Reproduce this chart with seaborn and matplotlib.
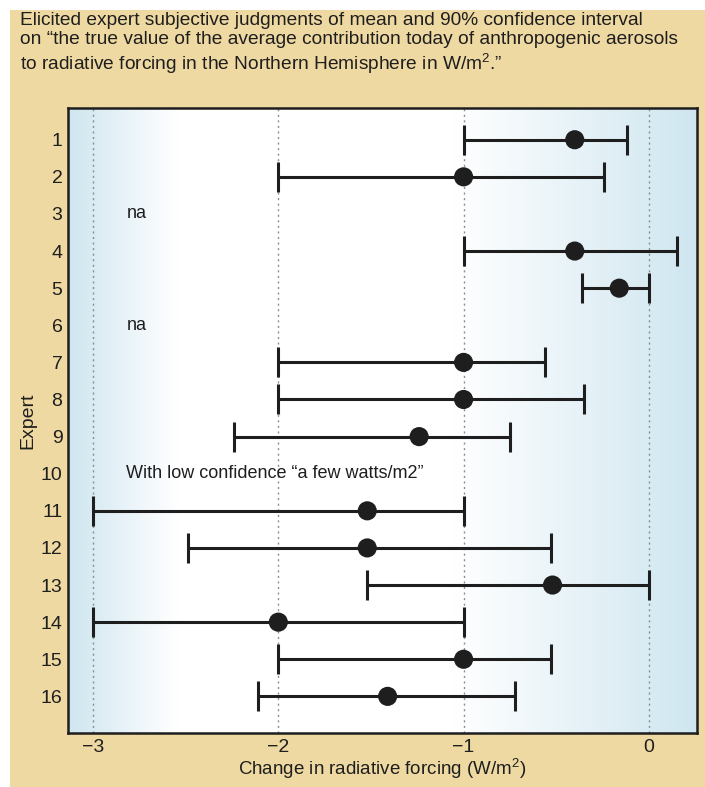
import numpy as np
import pandas as pd
import seaborn as sns
import matplotlib.pyplot as plt
from matplotlib.colors import LinearSegmentedColormap
from matplotlib.patches import Rectangle

# expert judgments (W/m^2): mean and 90% interval
experts = [1, 2, 4, 5, 7, 8, 9, 11, 12, 13, 14, 15, 16]
means = [-0.40, -1.00, -0.40, -0.16, -1.00, -1.00, -1.24, -1.52, -1.52, -0.52, -2.00, -1.00, -1.41]
lows = [-1.00, -2.00, -1.00, -0.36, -2.00, -2.00, -2.24, -3.00, -2.49, -1.52, -3.00, -2.00, -2.11]
highs = [-0.12, -0.24, 0.15, 0.00, -0.56, -0.35, -0.75, -1.00, -0.53, 0.00, -1.00, -0.53, -0.72]

na_experts = [3, 6]
note_expert = 10
note_text = "With low confidence \u201ca few watts/m2\u201d"

title = ("Elicited expert subjective judgments of mean and 90% confidence interval\n"
         "on \u201cthe true value of the average contribution today of anthropogenic aerosols\n"
         "to radiative forcing in the Northern Hemisphere in W/m$^2$.\u201d")

df = pd.DataFrame({"expert": experts, "mean": means, "low": lows, "high": highs})

sns.set_theme(style="white")
plt.rcParams['font.family'] = ['Liberation Sans', 'DejaVu Sans']
plt.rcParams['mathtext.fontset'] = 'custom'
plt.rcParams['mathtext.rm'] = 'Liberation Sans'

BEIGE = "#efd9a2"
BLUE = "#cfe6f0"
INK = "#1e1e1e"

fig = plt.figure(figsize=(7.05, 7.87), dpi=100)
fig.patch.set_facecolor("white")
fig.patches.append(Rectangle((10 / 705, 0), 1, 1 - 10 / 787, transform=fig.transFigure,
                             facecolor=BEIGE, edgecolor="none", zorder=-10))

ax = fig.add_axes([0.0965, 0.068, 0.8922, 0.795])
xlim = (-3.135, 0.26)
ylim = (17.0, 0.14)

# background gradient: blue at the edges, white in the middle
gx = np.linspace(xlim[0], xlim[1], 400)
w = np.interp(gx, [xlim[0], -2.55, -1.05, 0.0, xlim[1]], [1.0, 0.0, 0.0, 0.8, 1.0])
grad = np.tile(w, (2, 1))
cmap = LinearSegmentedColormap.from_list("bg", ["white", BLUE])
ax.imshow(grad, extent=(xlim[0], xlim[1], ylim[0], ylim[1]), aspect="auto",
          cmap=cmap, vmin=0, vmax=1, zorder=0, interpolation="bicubic")

for gxv in [-3, -2, -1, 0]:
    ax.axvline(gxv, color="#8a8f96", lw=1.0, ls=(0, (1.5, 2.5)), zorder=1)

ax.errorbar(df["mean"], df["expert"],
            xerr=[df["mean"] - df["low"], df["high"] - df["mean"]],
            fmt="none", ecolor=INK, elinewidth=2.2, capsize=11, capthick=2.2, zorder=3)
sns.scatterplot(data=df, x="mean", y="expert", ax=ax, s=190, color=INK,
                edgecolor="none", zorder=4, legend=False)

for e in na_experts:
    ax.text(-2.82, e, "na", fontsize=13, color=INK, va="center", ha="left")
ax.text(-2.82, note_expert, note_text, fontsize=13, color=INK, va="center", ha="left")

ax.set_xlim(*xlim)
ax.set_ylim(*ylim)
ax.set_yticks(range(1, 17))
ax.set_yticklabels([str(i) for i in range(1, 17)], fontsize=14, color=INK)
ax.set_xticks([-3, -2, -1, 0])
ax.set_xticklabels(["\u22123", "\u22122", "\u22121", "0"], fontsize=14, color=INK)
ax.tick_params(axis="both", length=0, pad=4)
ax.set_xlabel("Change in radiative forcing (W/m$^2$)", fontsize=13.5, color=INK, labelpad=0)
ax.set_ylabel("Expert", fontsize=14, color=INK, labelpad=3)
for sp in ax.spines.values():
    sp.set_color(INK)
    sp.set_linewidth(1.8)

fig.text(20 / 705, 1 - 12 / 787, title, fontsize=13.8, color=INK, va="top", ha="left",
         linespacing=1.15)

fig.savefig("out.png", dpi=100, facecolor=fig.get_facecolor())
